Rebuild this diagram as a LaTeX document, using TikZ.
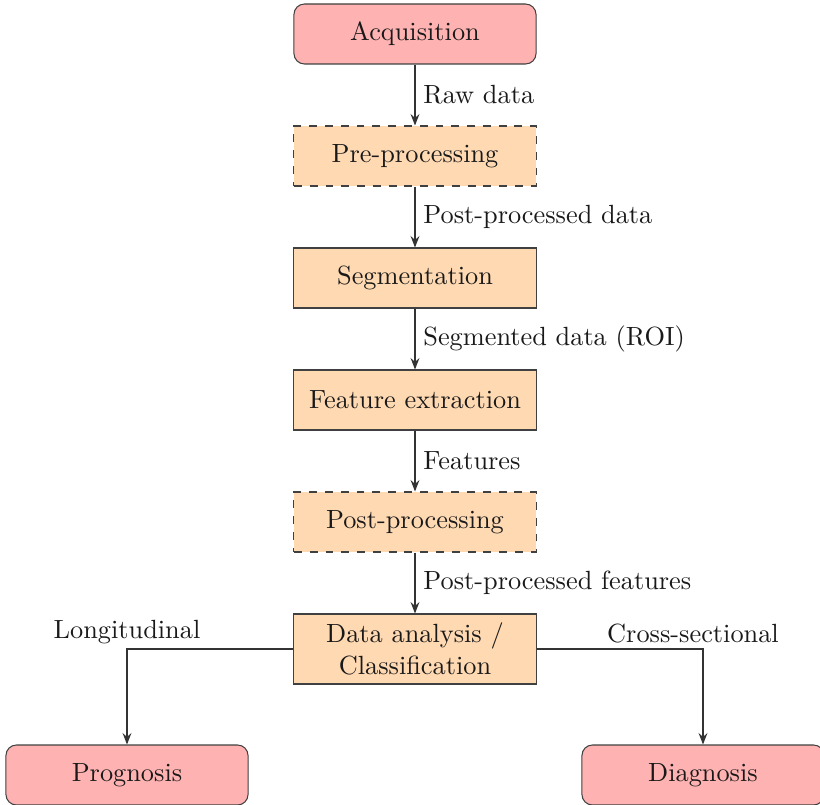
\documentclass[tikz,border=0pt]{standalone}
\usetikzlibrary{arrows.meta}
\begin{document}
\begin{tikzpicture}[x=0.38pt,y=-0.38pt,
  base/.style={draw=black!75, minimum width=92pt, minimum height=22.8pt, inner sep=2pt, text=black!90, align=center},
  endbox/.style={base, fill=red!30, rounded corners=4pt},
  stepbox/.style={base, fill=orange!30},
  optbox/.style={base, fill=orange!30, dashed},
  conn/.style={draw=black!80, -{Stealth[length=4.4pt,width=3.4pt,inset=1.6pt]}},
  lbl/.style={right, text=black!90, inner sep=3pt}]
\useasboundingbox (0,0) rectangle (820,805);
\node[endbox] (acq) at (415,34) {Acquisition};
\node[optbox] (pre) at (415,156) {Pre-processing};
\node[stepbox] (seg) at (415,278) {Segmentation};
\node[stepbox] (feat) at (415,400) {Feature extraction};
\node[optbox] (post) at (415,522) {Post-processing};
\node[stepbox, minimum height=26.6pt] (da) at (415,649) {Data analysis /\\Classification};
\node[endbox] (prog) at (127,775) {Prognosis};
\node[endbox] (diag) at (703,775) {Diagnosis};
\draw[conn] (acq) -- node[lbl] {Raw data} (pre);
\draw[conn] (pre) -- node[lbl] {Post-processed data} (seg);
\draw[conn] (seg) -- node[lbl] {Segmented data (ROI)} (feat);
\draw[conn] (feat) -- node[lbl] {Features} (post);
\draw[conn] (post) -- node[lbl] {Post-processed features} (da);
\coordinate (lc) at (127,649);
\coordinate (rc) at (703,649);
\draw[conn] (da.west) -- (lc) -- (prog.north);
\draw[conn] (da.east) -- (rc) -- (diag.north);
\node[text=black!90] (llbl) at (127,632) {Longitudinal};
\node[text=black!90] (rlbl) at (693,634) {Cross-sectional};
\end{tikzpicture}
\end{document}
